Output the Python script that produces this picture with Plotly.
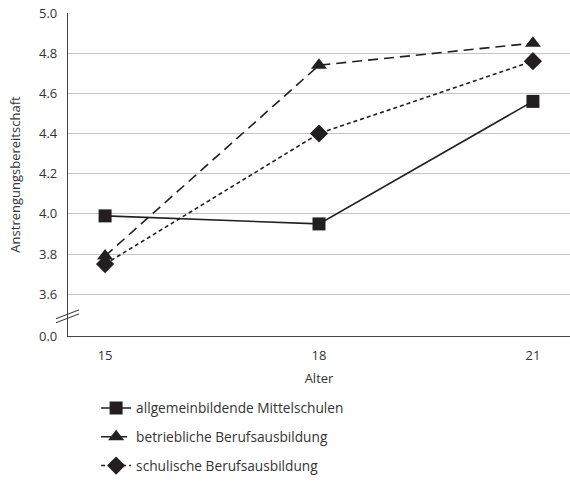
import plotly.graph_objects as go

ages = [15, 18, 21]
allgemein = [3.99, 3.95, 4.56]
betrieblich = [3.79, 4.74, 4.85]
schulisch = [3.75, 4.40, 4.76]

names = ["allgemeinbildende Mittelschulen", "betriebliche Berufsausbildung", "schulische Berufsausbildung"]

y_tickvals = [3.392, 3.6, 3.8, 4.0, 4.2, 4.4, 4.6, 4.8, 5.0]
y_ticktext = ["0.0", "3.6", "3.8", "4.0", "4.2", "4.4", "4.6", "4.8", "5.0"]

fig = go.Figure()
specs = [
    (allgemein, names[0], "square", "solid", 13),
    (betrieblich, names[1], "triangle-up", "10px,6px", 14),
    (schulisch, names[2], "diamond", "4px,3px", 14),
]
for i, (vals, nm, sym, dash, ms) in enumerate(specs):
    fig.add_trace(go.Scatter(
        x=ages, y=vals, name=nm, mode="lines+markers",
        legendgroup=f"g{i}",
        line=dict(color="#231f20", width=1.6, dash=dash),
        marker=dict(symbol=sym, size=ms, color="#231f20"),
    ))

# axis break marks
for off in [0.0, -0.02]:
    fig.add_shape(type="line", xref="paper", yref="y",
                  x0=-0.024, x1=0.022, y0=3.478 + off, y1=3.522 + off,
                  line=dict(color="#333333", width=1))

fig.update_layout(
    width=570, height=482,
    margin=dict(l=68, r=0, t=13, b=135),
    paper_bgcolor="white", plot_bgcolor="white",
    font=dict(family="Open Sans, Noto Sans, sans-serif", size=13, color="#333333"),
    showlegend=True,
    legend=dict(x=0.056, y=-0.175, xanchor="left", yanchor="top",
                traceorder="grouped", tracegroupgap=8,
                font=dict(size=13.7, color="#333333")),
    xaxis=dict(range=[14.48, 21.52], tickvals=ages, ticktext=[str(a) for a in ages],
               showgrid=False, showline=True, linecolor="#444444", linewidth=1.2,
               ticks="", ticklabelstandoff=7, zeroline=False,
               title=dict(text="Alter", standoff=11, font=dict(size=13))),
    yaxis=dict(range=[3.392, 5.0], tickvals=y_tickvals, ticktext=y_ticktext,
               showgrid=True, gridcolor="#c4c4c4", gridwidth=1.2,
               showline=True, linecolor="#444444", linewidth=1.2,
               ticks="", ticklabelstandoff=7, zeroline=False,
               title=dict(text="Anstrengungsbereitschaft", standoff=15, font=dict(size=13))),
)

fig.write_html("out.html", config={"displayModeBar": False},
               post_script="document.body.style.margin='0';document.body.style.overflow='hidden';")
